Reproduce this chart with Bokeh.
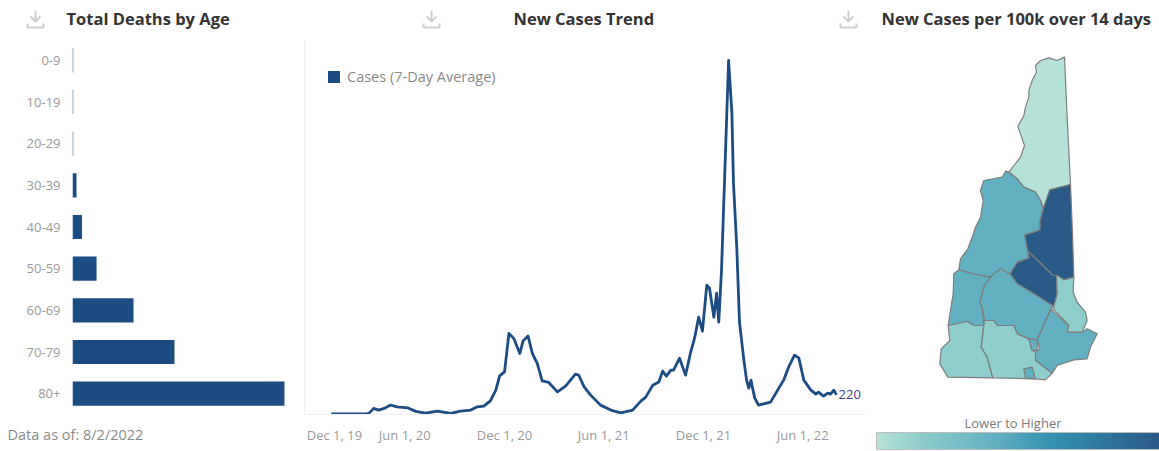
import numpy as np
from bokeh.plotting import figure
from bokeh.layouts import row, column
from bokeh.embed import file_html
from bokeh.resources import INLINE
from bokeh.models import (FactorRange, Range1d, FixedTicker, Legend, LegendItem, Title,
                          LinearColorMapper, ColorBar, ColumnDataSource)
from bokeh.transform import transform
from bokeh.core.properties import value

NAVY = "#1c4c84"
TEXT_GREY = "#9a9a9a"
FONT = "Open Sans"

# ---- Panel headers
panel_titles = ["Total Deaths by Age", "New Cases Trend", "New Cases per 100k over 14 days"]
panel_title_x = [66, 513, 881]
panel_icon_x = [35, 431, 848]

# ---- Total deaths by age
age_groups = ["0-9", "10-19", "20-29", "30-39", "40-49", "50-59", "60-69", "70-79", "80+"]
age_deaths = [5, 5, 5, 28, 66, 168, 426, 712, 1480]

# ---- New cases trend (days since Dec 1, 2019; 7-day average)
trend_days = [48, 111, 117, 126, 135, 145, 157, 169, 188, 203, 221, 243, 267, 285, 304, 316, 328, 340,
              350, 357, 366, 374, 383, 394, 400, 409, 417, 426, 435, 447, 463, 478, 496, 502, 512, 524,
              542, 561, 579, 601, 616, 625, 638, 649, 656, 663, 671, 676, 687, 698, 707, 715, 722, 729,
              737, 742, 750, 755, 759, 764, 777, 783, 786, 792, 797, 805, 810, 814, 818, 821, 825, 832,
              854, 867, 878, 887, 898, 906, 915, 928, 937, 942, 951, 959, 964, 970, 975]
trend_cases = [0, 0, 5, 63, 43, 63, 101, 81, 70, 28, 8, 31, 5, 31, 43, 81, 89, 151,
               275, 441, 487, 933, 875, 701, 847, 905, 701, 585, 383, 364, 255, 321, 460, 449, 313, 217,
               101, 43, 12, 43, 147, 194, 333, 368, 495, 437, 507, 507, 646, 449, 704, 890, 1122, 959,
               1493, 1458, 1122, 1400, 1064, 1667, 4103, 3500, 2676, 1934, 1064, 623, 391, 298, 391, 298, 182, 101,
               136, 275, 391, 542, 681, 646, 391, 275, 229, 252, 205, 240, 229, 275, 220]
trend_tick_days = [54, 183, 366, 548, 731, 913]
trend_tick_labels = ["Dec 1, 19", "Jun 1, 20", "Dec 1, 20", "Jun 1, 21", "Dec 1, 21", "Jun 1, 22"]
last_label = "220"

# ---- Map: county outlines in map units, relative level 0..1
county_names = ["Coos", "Carroll", "Belknap", "Grafton", "Sullivan", "Merrimack", "Rockingham",
                "Strafford", "Cheshire", "Hillsborough", "Manchester", "Nashua"]
county_level = [0.0, 1.0, 1.0, 0.42, 0.42, 0.42, 0.42, 0.15, 0.15, 0.15, 0.42, 0.42]
county_x = [
    [612, 590, 565, 540, 525, 528, 515, 505, 505, 495, 490, 472, 480, 492, 480, 445, 470, 490, 525, 540, 548, 568, 630, 620],
    [630, 568, 548, 538, 538, 492, 500, 578, 590, 610, 640, 636],
    [500, 505, 470, 448, 470, 520, 580, 590, 588, 578],
    [435, 425, 370, 360, 368, 360, 345, 335, 322, 300, 295, 345, 390, 410, 448, 470, 505, 492, 538, 538, 548, 540, 525, 490, 470, 445],
    [295, 280, 278, 270, 263, 320, 340, 370, 365, 358, 370, 390, 345],
    [390, 370, 358, 365, 372, 400, 410, 460, 470, 505, 530, 545, 572, 580, 520, 470, 448, 420, 410],
    [572, 545, 530, 537, 525, 525, 575, 590, 640, 680, 690, 710, 680, 665, 620, 625, 580],
    [588, 590, 580, 578, 625, 620, 665, 680, 675, 650, 638, 640, 610, 590],
    [263, 320, 340, 370, 362, 380, 397, 262, 238, 242, 268],
    [370, 372, 400, 410, 460, 470, 505, 515, 525, 525, 575, 555, 525, 397, 380, 362],
    [505, 530, 530, 515],
    [490, 515, 525, 495],
]
county_y = [
    [170, 180, 172, 180, 195, 215, 240, 270, 290, 320, 345, 378, 400, 435, 470, 515, 535, 560, 575, 600, 625, 568, 552, 350],
    [552, 568, 625, 660, 688, 703, 750, 825, 825, 838, 830, 700],
    [750, 772, 785, 820, 850, 880, 918, 880, 825, 825],
    [512, 530, 540, 570, 600, 650, 680, 710, 745, 775, 808, 822, 830, 812, 820, 785, 772, 703, 688, 660, 625, 600, 575, 560, 535, 515],
    [808, 820, 880, 930, 975, 963, 975, 975, 920, 905, 860, 830, 822],
    [830, 860, 905, 920, 960, 960, 975, 975, 1000, 1015, 1018, 985, 922, 918, 880, 850, 820, 805, 812],
    [925, 985, 1018, 1045, 1055, 1080, 1118, 1095, 1078, 1075, 1040, 1000, 985, 995, 995, 975, 935],
    [825, 880, 918, 925, 975, 995, 995, 960, 935, 905, 875, 830, 838, 825],
    [975, 963, 975, 975, 1040, 1070, 1132, 1130, 1090, 1045, 1020],
    [975, 960, 960, 975, 975, 1000, 1015, 1050, 1055, 1080, 1118, 1138, 1135, 1132, 1070, 1040],
    [1015, 1018, 1050, 1050],
    [1105, 1100, 1135, 1133],
]
gradient_positions = [0.0, 0.15, 0.42, 0.62, 1.0]
gradient_stops = ["#b5e2d8", "#90cdcd", "#62afc2", "#3392b0", "#2b5a86"]


def base(width, left, x_range, y_range):
    p = figure(width=width, height=412, output_backend="svg", toolbar_location=None,
               x_range=x_range, y_range=y_range,
               min_border_left=left, min_border_right=0, min_border_top=0, min_border_bottom=37,
               background_fill_color="white", border_fill_color="white")
    p.outline_line_color = None
    p.grid.visible = False
    return p


# ---- header strip: titles and download icons
head = figure(width=1159, height=39, output_backend="svg", toolbar_location=None,
              x_range=Range1d(0, 1159), y_range=Range1d(39, 0),
              min_border_left=0, min_border_right=0, min_border_top=0, min_border_bottom=0,
              background_fill_color="white", border_fill_color="white")
head.outline_line_color = None
head.grid.visible = False
head.axis.visible = False
head.text(x=panel_title_x, y=[18] * 3, text=panel_titles, text_baseline="middle",
          text_font=value(FONT), text_font_size="16.5px", text_font_style="bold", text_color="#333333")
for cx in panel_icon_x:
    head.multi_line(xs=[[cx, cx], [cx - 5, cx, cx + 5], [cx - 8, cx - 8, cx + 8, cx + 8]],
                    ys=[[10, 20], [16, 21, 16], [23, 27, 27, 23]],
                    line_color="#cfcfcf", line_width=2)

# ---- left panel
left = base(300, 72, Range1d(0, 1592), FactorRange(factors=list(reversed(age_groups))))
left.hbar(y=age_groups, right=age_deaths, left=0, height=0.58, fill_color=NAVY, line_color=None)
left.xaxis.visible = False
ax = left.yaxis[0]
ax.axis_line_color = None
ax.major_tick_line_color = None
ax.major_label_standoff = 6
ax.major_label_text_font = FONT
ax.major_label_text_font_size = "13px"
ax.major_label_text_color = TEXT_GREY
left.add_layout(Title(text="Data as of: 8/2/2022", align="left", offset=-65, standoff=16,
                      text_font=FONT, text_font_size="14.5px", text_font_style="normal",
                      text_color="#8a8a8a"), "below")

# ---- middle panel
mid = base(566, 4, Range1d(-1, 1030), Range1d(-8, 4347))
line = mid.line(trend_days, trend_cases, line_color=NAVY, line_width=2.8, line_join="round")
swatch = mid.quad(left=[np.nan], right=[np.nan], top=[np.nan], bottom=[np.nan], fill_color=NAVY, line_color=None)
mid.text(x=trend_days[-1:], y=trend_cases[-1:], text=[last_label], x_offset=2, text_baseline="middle",
         text_font=value(FONT), text_font_size="13px", text_color="#3d3d9a")
legend = Legend(items=[LegendItem(label="Cases (7-Day Average)", renderers=[swatch])], location=(22, 328),
                border_line_color=None, background_fill_alpha=0, padding=0, margin=0,
                glyph_width=15, glyph_height=15, label_standoff=6,
                label_text_font=FONT, label_text_font_size="14.5px", label_text_color="#8a8a8a")
mid.add_layout(legend)
mid.xaxis.ticker = FixedTicker(ticks=trend_tick_days)
mid.xaxis.major_label_overrides = dict(zip(trend_tick_days, trend_tick_labels))
mid.xaxis.major_tick_line_color = None
mid.xaxis.minor_tick_line_color = None
mid.xaxis.axis_line_color = "#f0f0f0"
mid.xaxis.major_label_standoff = 5
mid.xaxis.major_label_text_font = FONT
mid.xaxis.major_label_text_font_size = "13px"
mid.xaxis.major_label_text_color = TEXT_GREY
mid.yaxis.ticker = FixedTicker(ticks=[])
mid.yaxis.axis_line_color = "#f0f0f0"
mid.yaxis.major_tick_line_color = None
mid.yaxis.minor_tick_line_color = None

# ---- right panel
stops = np.array([[int(c[i:i + 2], 16) for i in (1, 3, 5)] for c in gradient_stops], dtype=float)
steps = np.linspace(0, 1, 128)
palette = ["#%02x%02x%02x" % tuple(int(round(np.interp(t, gradient_positions, stops[:, k]))) for k in range(3))
           for t in steps]
mapper = LinearColorMapper(palette=palette, low=0, high=1)
right = base(293, 0, Range1d(18, 897), Range1d(1242, 117))
right.xaxis.visible = False
right.yaxis.visible = False
src = ColumnDataSource(dict(xs=county_x, ys=county_y, level=county_level, name=county_names))
right.patches("xs", "ys", source=src, fill_color=transform("level", mapper),
              line_color="#7d7d7d", line_width=1.2, line_join="round")
right.add_layout(Title(text="Lower to Higher", align="center", offset=4, standoff=-2, vertical_align="top",
                       text_font=FONT, text_font_size="13px", text_font_style="normal",
                       text_color="#7a7a7a"), "below")
bar = ColorBar(color_mapper=mapper, location=(10, 2), width=283, height=17, padding=0,
               orientation="horizontal",
               ticker=FixedTicker(ticks=[]), major_tick_line_color=None, minor_tick_line_color=None,
               bar_line_color="#bdbdbd", border_line_color=None, background_fill_alpha=0, margin=0)
right.add_layout(bar, "below")

layout = column(head, row(left, mid, right, spacing=0), spacing=0)
open("out.html", "w").write(file_html(layout, INLINE))
